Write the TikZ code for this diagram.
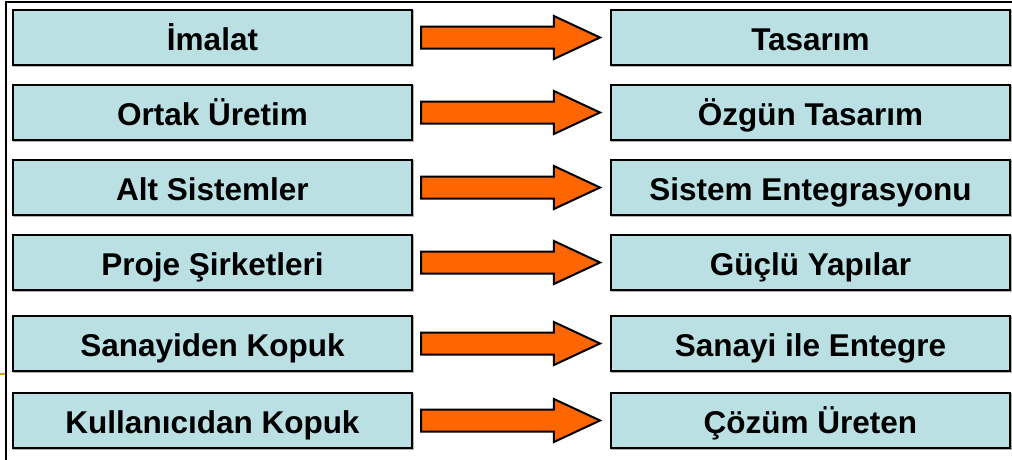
\documentclass[tikz,border=0pt]{standalone}
\usepackage{fontspec}
\setmainfont{Liberation Sans}
\usetikzlibrary{shapes.arrows}
\definecolor{boxfill}{HTML}{BAE0E3}
\definecolor{arrowfill}{HTML}{FF6600}
\definecolor{bulletline}{HTML}{D9A300}
\tikzset{
  box/.style={draw=black, line width=2pt, fill=boxfill, minimum width=399pt, minimum height=55pt,
    inner sep=0pt, outer sep=0pt, anchor=north west, text height=25pt, text depth=0pt,
    font=\fontsize{31.5}{36}\selectfont\bfseries,
    preaction={draw=gray!60, line width=2pt, transform canvas={shift={(1.2pt,-1.2pt)}}}},
  orangearrow/.style={single arrow, draw=black, line width=2pt, fill=arrowfill,
    minimum height=179pt, minimum width=41pt, single arrow head extend=10.5pt,
    single arrow tip angle=50, inner xsep=0pt, inner ysep=10pt, outer sep=0pt, anchor=west},
  frameline/.style={draw=black, line width=2pt}
}
\begin{document}
\begin{tikzpicture}[x=1pt,y=-1pt]
\useasboundingbox (0,0) rectangle (1012,459);
\fill[white] (0,0) rectangle (1012,459);
\coordinate (ftr) at (1014,2);
\coordinate (ftl) at (6,2);
\coordinate (fbl) at (6,461);
\draw[frameline] (ftr) -- (ftl) -- (fbl);
\coordinate (bl1) at (0,374);
\coordinate (bl2) at (5,374);
\draw[bulletline, line width=2.2pt] (bl1) -- (bl2);
% left column
\node[box] (l1) at (13,10)  {İmalat};
\node[box] (l2) at (13,85)  {Ortak Üretim};
\node[box] (l3) at (13,160) {Alt Sistemler};
\node[box] (l4) at (13,235) {Proje Şirketleri};
\node[box] (l5) at (13,316) {Sanayiden Kopuk};
\node[box] (l6) at (13,393) {Kullanıcıdan Kopuk};
% right column
\node[box] (r1) at (611,10)  {Tasarım};
\node[box] (r2) at (611,85)  {Özgün Tasarım};
\node[box] (r3) at (611,160) {Sistem Entegrasyonu};
\node[box] (r4) at (611,235) {Güçlü Yapılar};
\node[box] (r5) at (611,316) {Sanayi ile Entegre};
\node[box] (r6) at (611,393) {Çözüm Üreten};
% arrows
\foreach \i in {1,...,6}{
  \node[orangearrow] (a\i) at ([xshift=9pt]l\i.east) {};
}
\end{tikzpicture}
\end{document}
